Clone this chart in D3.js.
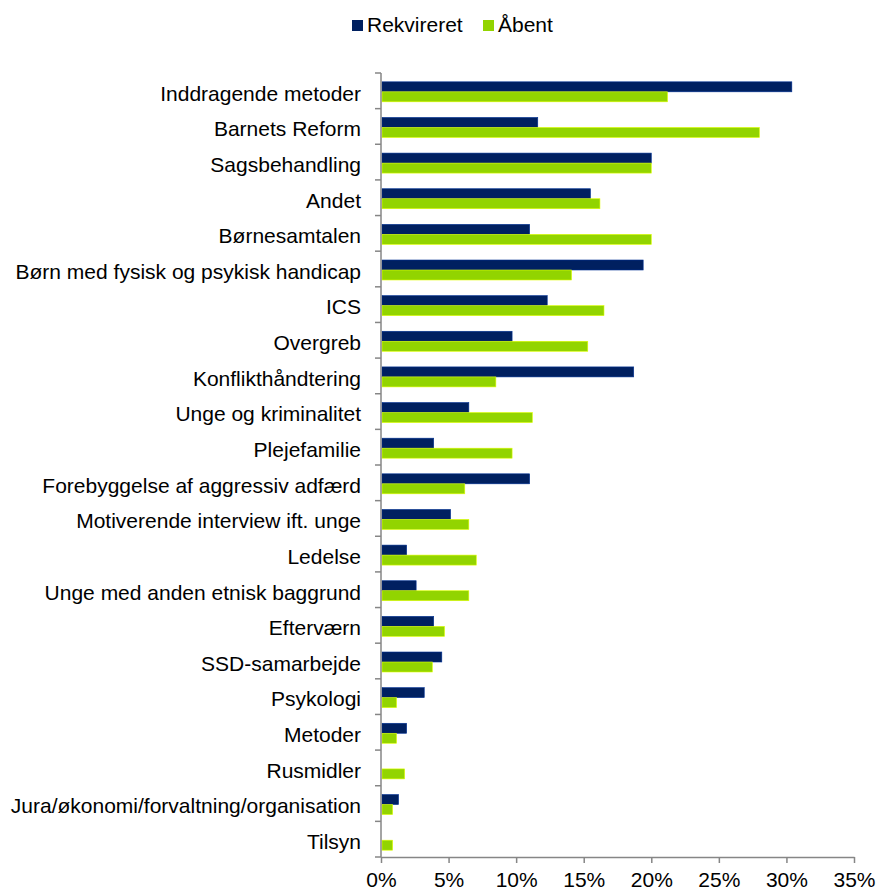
<!DOCTYPE html>
<html>
<head>
<meta charset="utf-8">
<script src="https://cdn.jsdelivr.net/npm/d3@7"></script>
<style>
  body { margin: 0; background: #fff; }
  text { font-family: "Liberation Sans", Arial, sans-serif; fill: #000; }
</style>
</head>
<body>
<svg class="chart"></svg>
<script>
const size = { w: 877, h: 891 };

// categories top to bottom
const categories = [
	"Inddragende metoder",
	"Barnets Reform",
	"Sagsbehandling",
	"Andet",
	"Børnesamtalen",
	"Børn med fysisk og psykisk handicap",
	"ICS",
	"Overgreb",
	"Konflikthåndtering",
	"Unge og kriminalitet",
	"Plejefamilie",
	"Forebyggelse af aggressiv adfærd",
	"Motiverende interview ift. unge",
	"Ledelse",
	"Unge med anden etnisk baggrund",
	"Efterværn",
	"SSD-samarbejde",
	"Psykologi",
	"Metoder",
	"Rusmidler",
	"Jura/økonomi/forvaltning/organisation",
	"Tilsyn",
];

// percent values
const rekvireret = [30.4, 11.6, 20.0, 15.5, 11.0, 19.4, 12.3, 9.7, 18.7, 6.5, 3.9, 11.0, 5.15, 1.9, 2.6, 3.9, 4.5, 3.2, 1.9, 0, 1.3, 0];
const aabent = [21.2, 28.0, 20.0, 16.2, 20.0, 14.1, 16.5, 15.3, 8.5, 11.2, 9.7, 6.2, 6.5, 7.05, 6.5, 4.7, 3.8, 1.15, 1.15, 1.75, 0.86, 0.86];

const seriesNames = ["Rekvireret", "Åbent"];
const seriesColors = ["#002060", "#92D400"];
const xTicks = [0, 5, 10, 15, 20, 25, 30, 35];

const margin = { top: 73, left: 381, right: 23, bottom: 34 };
const plot = {
	w: size.w - margin.left - margin.right,
	h: size.h - margin.top - margin.bottom,
};
const fontSize = "21px";

const svg = d3.select("svg.chart").attr("width", size.w).attr("height", size.h);
const g = svg.append("g").attr("transform", `translate(${margin.left},${margin.top})`);

const x = d3.scaleLinear().domain([0, 35]).range([0, plot.w]);
const y = d3.scaleBand().domain(categories).range([0, plot.h]);
const inner = d3
	.scaleBand()
	.domain(seriesNames)
	.range([0, 20])
	.paddingInner(0);

// rows: one group per category
const rows = categories.map((c, i) => ({ cat: c, vals: [rekvireret[i], aabent[i]] }));

const rowG = g
	.selectAll("g.row")
	.data(rows)
	.join("g")
	.attr("class", "row")
	.attr("transform", (d) => `translate(0,${y(d.cat) + (y.bandwidth() - 20) / 2 + 1})`);

rowG
	.selectAll("rect")
	.data((d) => d.vals.map((v, i) => ({ v, s: seriesNames[i], c: seriesColors[i] })))
	.join("rect")
	.attr("x", 1)
	.attr("y", (d) => inner(d.s))
	.attr("width", (d) => Math.max(0, x(d.v) - 1))
	.attr("height", inner.bandwidth())
	.attr("fill", (d) => d.c)
	.attr("stroke", (d) => (d.v > 0 ? d3.color(d.c).brighter(1.2) : "none"))
	.attr("stroke-width", 0.6);

// y axis with ticks between categories
const yAxisG = g.append("g");
yAxisG
	.append("line")
	.attr("x1", 0)
	.attr("x2", 0)
	.attr("y1", 0)
	.attr("y2", plot.h)
	.attr("stroke", "#868686")
	.attr("stroke-width", 1.5);
yAxisG
	.selectAll("line.tick")
	.data(d3.range(categories.length + 1))
	.join("line")
	.attr("class", "tick")
	.attr("x1", -6)
	.attr("x2", 0)
	.attr("y1", (i) => i * y.step())
	.attr("y2", (i) => i * y.step())
	.attr("stroke", "#868686")
	.attr("stroke-width", 1.5);
yAxisG
	.selectAll("text")
	.data(categories)
	.join("text")
	.attr("x", -20)
	.attr("y", (d) => y(d) + y.bandwidth() / 2 + 2.5)
	.attr("dy", "0.35em")
	.attr("text-anchor", "end")
	.style("font-size", fontSize)
	.text((d) => d);

// x axis
const xAxis = d3
	.axisBottom(x)
	.tickValues(xTicks)
	.tickSize(6)
	.tickSizeOuter(0)
	.tickPadding(9)
	.tickFormat((d) => d + "%");
const xAxisG = g.append("g").attr("transform", `translate(0,${plot.h})`).call(xAxis);
xAxisG.select(".domain").attr("stroke", "#868686").attr("stroke-width", 1.5);
xAxisG.selectAll(".tick line").attr("stroke", "#868686").attr("stroke-width", 1.5);
xAxisG
	.selectAll(".tick text")
	.style("font-size", fontSize)
	.style("font-family", '"Liberation Sans", Arial, sans-serif')
	.attr("fill", "#000");

// legend
const legendX = [352, 483];
const legend = svg
	.selectAll("g.legend")
	.data(seriesNames)
	.join("g")
	.attr("class", "legend")
	.attr("transform", (d, i) => `translate(${legendX[i]},20)`);
legend
	.append("rect")
	.attr("width", 11)
	.attr("height", 11)
	.attr("fill", (d, i) => seriesColors[i]);
legend
	.append("text")
	.attr("x", 15)
	.attr("y", 11.5)
	.style("font-size", fontSize)
	.text((d) => d);
</script>
</body>
</html>
